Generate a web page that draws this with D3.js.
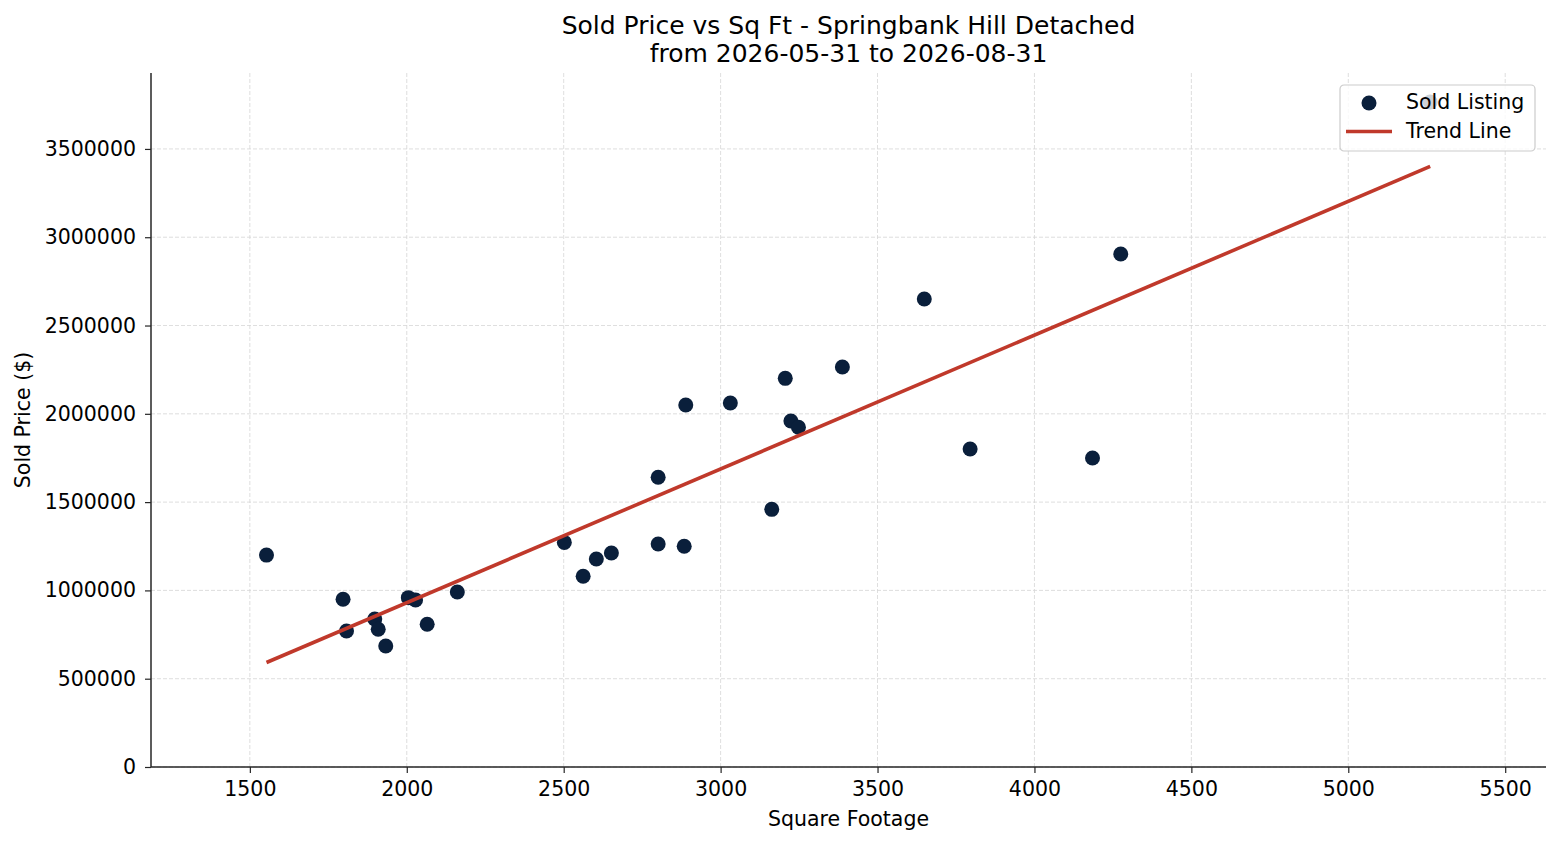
<!DOCTYPE html>
<html>
<head>
<meta charset="utf-8">
<script src="https://cdn.jsdelivr.net/npm/d3@7/dist/d3.min.js"></script>
<style>
  body { margin: 0; background: #fff; }
  text { font-family: "DejaVu Sans", sans-serif; fill: #000; }
</style>
</head>
<body>
<script>
// sold listings
const sqft = [1553, 1797, 1808, 1898, 1909, 1933, 2005, 2028, 2065, 2161,
              2502, 2562, 2604, 2652, 2801, 2801, 2884, 2889, 3031, 3163,
              3206, 3224, 3248, 3388, 3649, 3795, 4185, 4275, 5261];
const price = [1200000, 950000, 770000, 838000, 780000, 685000, 959000, 946000, 808000, 991000,
               1272000, 1080000, 1178000, 1212000, 1641000, 1263000, 1250000, 2050000, 2061000, 1459000,
               2201000, 1959000, 1924000, 2265000, 2650000, 1801000, 1750000, 2905000, 3766000];
const xTicks = [1500, 2000, 2500, 3000, 3500, 4000, 4500, 5000, 5500];
const yTicks = [0, 500000, 1000000, 1500000, 2000000, 2500000, 3000000, 3500000];

const width = 1560, height = 845;
const margin = {top: 73, right: 14, bottom: 78, left: 151};

const svg = d3.select("body").append("svg")
  .attr("width", width)
  .attr("height", height);

const x = d3.scaleLinear()
  .domain([1185, 5630])
  .range([margin.left, width - margin.right]);

const y = d3.scaleLinear()
  .domain([0, 3930000])
  .range([height - margin.bottom, margin.top]);

// grid
svg.append("g")
  .selectAll("line.gx")
  .data(xTicks)
  .enter().append("line")
  .attr("x1", d => x(d)).attr("x2", d => x(d))
  .attr("y1", margin.top).attr("y2", height - margin.bottom)
  .attr("stroke", "#d6d6d6").attr("stroke-width", 0.8)
  .attr("stroke-dasharray", "4,2");

svg.append("g")
  .selectAll("line.gy")
  .data(yTicks)
  .enter().append("line")
  .attr("x1", margin.left).attr("x2", width - margin.right)
  .attr("y1", d => y(d)).attr("y2", d => y(d))
  .attr("stroke", "#d6d6d6").attr("stroke-width", 0.8)
  .attr("stroke-dasharray", "4,2");

// axes
const xAxis = svg.append("g")
  .attr("transform", `translate(0,${height - margin.bottom})`)
  .call(d3.axisBottom(x).tickValues(xTicks).tickSize(6).tickPadding(8.5).tickFormat(d3.format("d")));

const yAxis = svg.append("g")
  .attr("transform", `translate(${margin.left},0)`)
  .call(d3.axisLeft(y).tickValues(yTicks).tickSize(6).tickPadding(9).tickFormat(d3.format("d")));

[xAxis, yAxis].forEach(a => {
  a.select(".domain").attr("stroke", "#262626").attr("stroke-width", 1.5);
  a.selectAll(".tick line").attr("stroke", "#262626").attr("stroke-width", 1.2);
  a.selectAll(".tick text").attr("font-size", 20.5).attr("fill", "#000")
    .style("font-family", "DejaVu Sans");
});
// keep the domain spanning the whole axis (no end ticks)
xAxis.select(".domain").attr("d", `M${margin.left},0H${width - margin.right}`);
yAxis.select(".domain").attr("d", `M0,${margin.top}V${height - margin.bottom}`);

// points
svg.append("g")
  .selectAll("circle")
  .data(sqft)
  .enter().append("circle")
  .attr("cx", d => x(d))
  .attr("cy", (d, i) => y(price[i]))
  .attr("r", 7.5)
  .attr("fill", "#0a1f3b");

// least squares trend line
const mx = d3.mean(sqft), my = d3.mean(price);
let sxy = 0, sxx = 0;
sqft.forEach((d, i) => { sxy += (d - mx) * (price[i] - my); sxx += (d - mx) * (d - mx); });
const slope = sxy / sxx, intercept = my - slope * mx;
const ends = d3.extent(sqft);

svg.append("path")
  .datum(ends)
  .attr("d", d3.line().x(d => x(d)).y(d => y(slope * d + intercept)))
  .attr("stroke", "#c0392b")
  .attr("stroke-width", 3.6)
  .attr("fill", "none");

// titles
svg.append("text")
  .attr("x", (margin.left + width - margin.right) / 2)
  .attr("y", 34)
  .attr("text-anchor", "middle")
  .attr("font-size", 25)
  .text("Sold Price vs Sq Ft - Springbank Hill Detached");

svg.append("text")
  .attr("x", (margin.left + width - margin.right) / 2)
  .attr("y", 62)
  .attr("text-anchor", "middle")
  .attr("font-size", 25)
  .text("from 2026-05-31 to 2026-08-31");

svg.append("text")
  .attr("x", (margin.left + width - margin.right) / 2)
  .attr("y", 826)
  .attr("text-anchor", "middle")
  .attr("font-size", 20.5)
  .text("Square Footage");

svg.append("text")
  .attr("transform", `translate(30,${(margin.top + height - margin.bottom) / 2}) rotate(-90)`)
  .attr("text-anchor", "middle")
  .attr("font-size", 20.5)
  .text("Sold Price ($)");

// legend
const lg = svg.append("g").attr("transform", "translate(1340,85)");
lg.append("rect")
  .attr("width", 195).attr("height", 66)
  .attr("rx", 4)
  .attr("fill", "#fff").attr("fill-opacity", 0.8)
  .attr("stroke", "#cccccc").attr("stroke-width", 1.2);
lg.append("circle")
  .attr("cx", 29).attr("cy", 18).attr("r", 7.5)
  .attr("fill", "#0a1f3b");
lg.append("line")
  .attr("x1", 6).attr("x2", 52).attr("y1", 46.5).attr("y2", 46.5)
  .attr("stroke", "#c0392b").attr("stroke-width", 3.6);
lg.append("text")
  .attr("x", 66).attr("y", 24).attr("font-size", 20.5)
  .text("Sold Listing");
lg.append("text")
  .attr("x", 66).attr("y", 53).attr("font-size", 20.5)
  .text("Trend Line");
</script>
</body>
</html>
